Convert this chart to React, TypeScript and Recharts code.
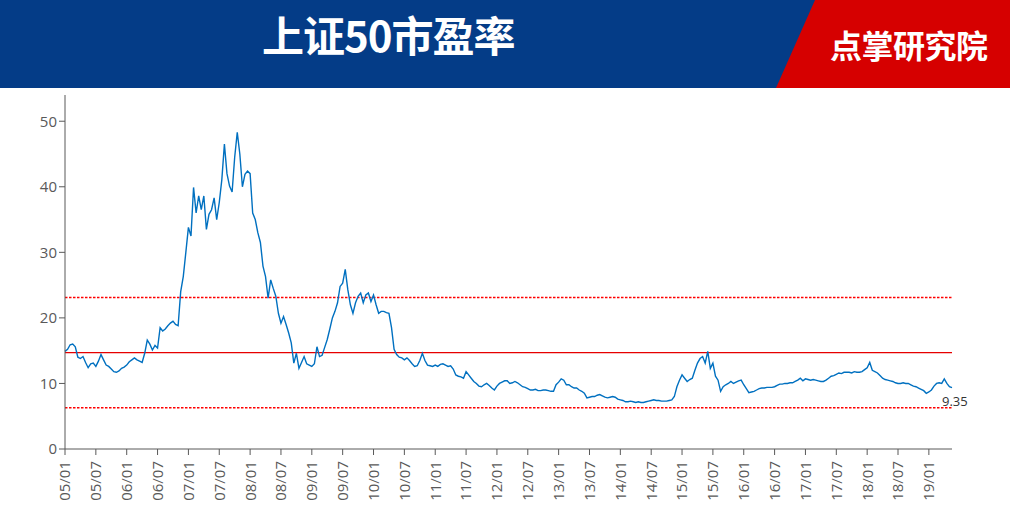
import React from 'react';
import { LineChart, Line, XAxis, YAxis, ReferenceLine, LabelList } from 'recharts';

// Semi-monthly P/E values of SSE 50, Jan 2005 - May 2019
const pe2005 = [14.9, 15.2, 15.9, 16.0, 15.6, 14.0, 13.8, 14.1, 13.2, 12.4, 13.0, 13.1, 12.6, 13.4, 14.4, 13.6, 12.8, 12.6, 12.2, 11.8, 11.7, 11.9, 12.3, 12.5];
const pe2006 = [12.8, 13.3, 13.6, 13.9, 13.6, 13.4, 13.2, 14.6, 16.6, 16.0, 15.1, 15.8, 15.4, 18.5, 18.0, 18.3, 18.8, 19.2, 19.5, 19.0, 18.8, 24.0, 26.3, 30.0];
const pe2007 = [33.8, 32.5, 39.9, 36.0, 38.6, 36.5, 38.6, 33.5, 35.8, 36.5, 38.3, 35.0, 37.6, 41.1, 46.5, 42.0, 40.1, 39.2, 44.5, 48.3, 45.0, 40.0, 41.9, 42.4];
const pe2008 = [42.0, 36.0, 35.0, 33.0, 31.5, 27.9, 26.3, 23.0, 25.8, 24.5, 23.3, 20.7, 19.2, 20.2, 19.0, 17.7, 16.2, 13.1, 14.6, 12.3, 13.2, 14.1, 13.0, 12.8];
const pe2009 = [12.6, 13.0, 15.6, 14.1, 14.3, 15.5, 16.7, 18.3, 20.0, 21.0, 22.3, 24.8, 25.3, 27.4, 24.3, 22.0, 20.7, 22.3, 23.3, 23.8, 22.3, 23.5, 23.8, 22.5];
const pe2010 = [23.5, 22.0, 20.7, 21.0, 21.0, 20.8, 20.7, 18.5, 15.2, 14.4, 14.0, 13.9, 13.6, 13.9, 13.5, 13.0, 12.6, 12.7, 13.5, 14.6, 13.5, 12.8, 12.7, 12.6];
const pe2011 = [12.8, 12.6, 12.9, 13.0, 12.8, 12.6, 12.7, 12.2, 11.3, 11.1, 11.0, 10.8, 11.8, 11.3, 10.8, 10.3, 10.0, 9.6, 9.5, 9.8, 10.0, 9.7, 9.3, 9.0];
const pe2012 = [9.6, 10.0, 10.2, 10.4, 10.4, 10.0, 10.1, 10.3, 10.1, 9.8, 9.5, 9.4, 9.2, 9.0, 9.0, 9.1, 8.9, 8.9, 9.0, 9.0, 8.9, 8.8, 8.8, 9.8];
const pe2013 = [10.2, 10.7, 10.5, 9.8, 9.8, 9.5, 9.3, 9.3, 9.0, 8.8, 8.5, 7.8, 7.9, 8.0, 8.0, 8.2, 8.3, 8.1, 7.9, 7.8, 7.9, 8.0, 7.9, 7.6];
const pe2014 = [7.5, 7.4, 7.2, 7.2, 7.3, 7.2, 7.1, 7.2, 7.1, 7.1, 7.2, 7.3, 7.4, 7.5, 7.4, 7.4, 7.3, 7.3, 7.3, 7.4, 7.5, 8.0, 9.5, 10.5];
const pe2015 = [11.3, 10.8, 10.3, 10.6, 10.8, 12.0, 13.1, 13.8, 14.1, 13.1, 14.9, 12.3, 13.1, 11.1, 10.5, 8.8, 9.5, 9.8, 10.0, 10.3, 10.0, 10.2, 10.4, 10.5];
const pe2016 = [9.8, 9.2, 8.6, 8.7, 8.8, 9.0, 9.2, 9.3, 9.3, 9.4, 9.4, 9.4, 9.5, 9.7, 9.9, 9.9, 10.0, 10.0, 10.1, 10.1, 10.3, 10.5, 10.8, 10.4];
const pe2017 = [10.7, 10.6, 10.5, 10.6, 10.5, 10.4, 10.3, 10.3, 10.5, 10.8, 11.1, 11.2, 11.4, 11.6, 11.5, 11.7, 11.7, 11.7, 11.6, 11.8, 11.7, 11.7, 11.8, 12.1];
const pe2018 = [12.4, 13.2, 12.0, 11.8, 11.6, 11.2, 10.8, 10.6, 10.5, 10.4, 10.3, 10.1, 10.0, 10.0, 10.1, 10.0, 10.0, 9.8, 9.6, 9.5, 9.3, 9.1, 8.9, 8.5];
const pe2019 = [8.7, 9.0, 9.6, 10.0, 10.1, 10.0, 10.7, 10.0, 9.5, 9.35];

const tickLabels = ['05/01', '05/07', '06/01', '06/07', '07/01', '07/07', '08/01', '08/07', '09/01', '09/07', '10/01', '10/07', '11/01', '11/07', '12/01', '12/07', '13/01', '13/07', '14/01', '14/07', '15/01', '15/07', '16/01', '16/07', '17/01', '17/07', '18/01', '18/07', '19/01'];
const yTicks = [0, 10, 20, 30, 40, 50];
const upperLine = 23.1;
const meanLine = 14.7;
const lowerLine = 6.3;

const allValues = [...pe2005, ...pe2006, ...pe2007, ...pe2008, ...pe2009, ...pe2010, ...pe2011, ...pe2012, ...pe2013, ...pe2014, ...pe2015, ...pe2016, ...pe2017, ...pe2018, ...pe2019];
const data = allValues.map((v, i) => ({ idx: i, pe: v }));
const lastIdx = data.length - 1;
const xTicks = tickLabels.map((_, i) => i * 12);

const FONT = '"Open Sans", "DejaVu Sans", sans-serif';

const XTick = (props: any) => {
  const { x, y, payload } = props;
  const label = tickLabels[Math.round(payload.value / 12)] ?? '';
  return (
    <text
      transform={`translate(${x},${y + 4}) rotate(-90)`}
      textAnchor="end"
      dy="0.36em"
      fontSize={15}
      fill="#595959"
      fontFamily={FONT}
    >
      {label}
    </text>
  );
};

const LastLabel = (props: any) => {
  const { x, y, index } = props;
  if (index !== lastIdx) return null;
  return (
    <text x={x - 10} y={y + 18} fontSize={13} fill="#333" fontFamily={FONT}>
      9.35
    </text>
  );
};

export default function App() {
  return (
    <div style={{ position: 'absolute', left: 0, top: 0, width: 1010, height: 520, background: '#fff', overflow: 'hidden' }}>
      <div style={{ position: 'absolute', left: 0, top: 0, width: 1010, height: 88, background: '#043c87' }} />
      <div
        style={{
          position: 'absolute', left: 0, top: 0, width: 1010, height: 88, background: '#d60000',
          clipPath: 'polygon(815px 0, 1010px 0, 1010px 88px, 776px 88px)',
        }}
      />
      <div
        style={{
          position: 'absolute', left: 262, top: 8, width: 280, height: 52, color: '#fff',
          fontFamily: '"Noto Sans CJK SC", sans-serif', fontWeight: 700, fontSize: 42, lineHeight: '52px',
          letterSpacing: -1, whiteSpace: 'nowrap',
        }}
      >
        上证50市盈率
      </div>
      <div
        style={{
          position: 'absolute', left: 830, top: 24, width: 180, height: 40, color: '#fff',
          fontFamily: '"Noto Sans CJK SC", sans-serif', fontWeight: 700, fontSize: 32, lineHeight: '40px',
          letterSpacing: -0.5, whiteSpace: 'nowrap',
        }}
      >
        点掌研究院
      </div>
      <div style={{ position: 'absolute', left: 0, top: 88 }}>
        <LineChart width={1010} height={432} data={data} margin={{ top: 7, right: 58, bottom: 0, left: 0 }}>
          <XAxis
            dataKey="idx"
            type="number"
            domain={[0, 345]}
            ticks={xTicks}
            interval={0}
            tick={<XTick />}
            height={71}
            axisLine={{ stroke: '#595959' }}
            tickLine={{ stroke: '#595959' }}
            tickSize={6}
          />
          <YAxis
            type="number"
            domain={[0, 54]}
            ticks={yTicks}
            interval={0}
            width={65}
            axisLine={{ stroke: '#595959' }}
            tickLine={{ stroke: '#595959' }}
            tickSize={6}
            tick={{ fontSize: 15, fill: '#595959', fontFamily: FONT }}
          />
          <ReferenceLine y={upperLine} stroke="#ff0000" strokeWidth={1.6} strokeDasharray="2.5 1.5" ifOverflow="visible" />
          <ReferenceLine y={meanLine} stroke="#e60000" strokeWidth={1.3} ifOverflow="visible" />
          <ReferenceLine y={lowerLine} stroke="#ff0000" strokeWidth={1.6} strokeDasharray="2.5 1.5" ifOverflow="visible" />
          <Line
            type="linear"
            dataKey="pe"
            stroke="#0070c0"
            strokeWidth={1.4}
            dot={false}
            isAnimationActive={false}
          >
            <LabelList dataKey="pe" content={<LastLabel />} />
          </Line>
        </LineChart>
      </div>
    </div>
  );
}
